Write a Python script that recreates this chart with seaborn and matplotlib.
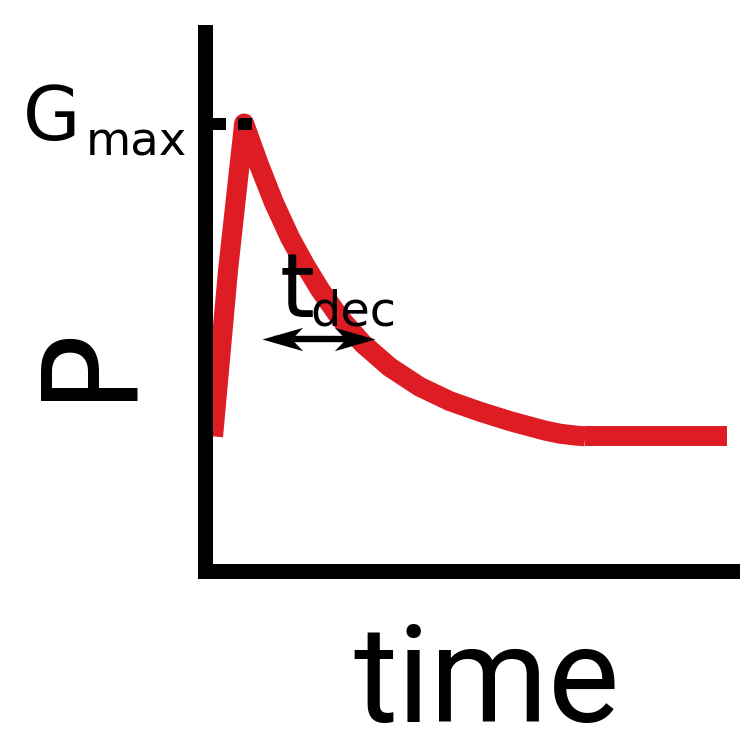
import matplotlib
matplotlib.use("Agg")
import matplotlib.pyplot as plt
from matplotlib.path import Path
import seaborn as sns

# Conductance time course (arbitrary units): fast rise to Gmax, slow decay to rest
rise_t = [0.16, 0.44, 0.74]
rise_p = [0.30, 0.672, 1.00]
decay_t = [1.02, 1.30, 1.60, 1.88, 2.16, 2.53, 2.96, 3.46, 4.02, 4.58, 5.15, 5.71,
           6.08, 6.36, 6.64, 6.92, 7.11]
decay_p = [0.907, 0.822, 0.744, 0.683, 0.628, 0.565, 0.507, 0.455, 0.411, 0.379,
           0.355, 0.334, 0.322, 0.313, 0.306, 0.302, 0.300]
rest_t = [7.11, 9.76]
rest_p = [0.30, 0.30]

g_max = 1.00
gmax_marker_t = [0.14, 0.906]
t_dec_span = [1.074, 3.184]
t_dec_level = 0.518

RED = "#dd1c24"
W, H, DPI = 740, 736, 100

sns.set_style("white")
plt.rcParams["font.family"] = ["DejaVu Sans"]
plt.rcParams["text.color"] = "black"

fig = plt.figure(figsize=(W / DPI, H / DPI), dpi=DPI)
ax = fig.add_axes([204.5 / W, (H - 570.5) / H, (W - 204.5) / W, (570.5 - 31.5) / H])
ax.set_xlim(0, 10)
ax.set_ylim(0, 539 / 447)

# main trace
sns.lineplot(x=rise_t + decay_t, y=rise_p + decay_p, ax=ax, color=RED, lw=14.4,
             sort=False, estimator=None, solid_joinstyle="round", solid_capstyle="butt")
sns.lineplot(x=rest_t, y=rest_p, ax=ax, color=RED, lw=14.4,
             sort=False, estimator=None, solid_capstyle="butt")

# dashed marker at the peak level
ax.plot(gmax_marker_t, [g_max, g_max], color="black", lw=8.64,
        dashes=(14 / 12, 12 / 12), dash_capstyle="butt", zorder=4)

# double-headed arrow for the decay time
head_r = Path([(0, 0), (-40, 11.5), (-29, 0), (-40, -11.5), (0, 0)],
              [Path.MOVETO, Path.LINETO, Path.LINETO, Path.LINETO, Path.CLOSEPOLY])
head_l = Path([(0, 0), (40, 11.5), (29, 0), (40, -11.5), (0, 0)],
              [Path.MOVETO, Path.LINETO, Path.LINETO, Path.LINETO, Path.CLOSEPOLY])
px = 53.55
ax.plot([t_dec_span[0] + 12 / px, t_dec_span[1] - 12 / px], [t_dec_level] * 2,
        color="black", lw=4.6, solid_capstyle="butt", zorder=5)
ax.plot([t_dec_span[1]], [t_dec_level], marker=head_r, ms=58.5, color="black",
        mew=0, zorder=5, ls="none")
ax.plot([t_dec_span[0]], [t_dec_level], marker=head_l, ms=58.5, color="black",
        mew=0, zorder=5, ls="none")

# axes: only the left and bottom spines, heavy, no ticks
sns.despine(ax=ax, top=True, right=True)
for s in ("left", "bottom"):
    ax.spines[s].set_linewidth(10.8)
    ax.spines[s].set_color("black")
    ax.spines[s].set_capstyle("projecting")
ax.set_xticks([])
ax.set_yticks([])
ax.set_facecolor("white")

def ftext(x, y, s, **kw):
    fig.text(x / W, 1 - y / H, s, ha=kw.pop("ha", "left"), va=kw.pop("va", "baseline"),
             color="black", **kw)

ftext(23, 140, "G", fontsize=53.5)
ftext(86, 155, "max", fontsize=33.5)
ftext(280, 317, "t", fontsize=64)
ftext(310, 325, "dec", fontsize=34.5)
ftext(89, 360, "P", fontsize=95, rotation=90, ha="center", va="center")
ftext(353, 722, "time", fontsize=97, family=["Roboto", "DejaVu Sans"])

fig.savefig("out.png", dpi=DPI, facecolor="white")
